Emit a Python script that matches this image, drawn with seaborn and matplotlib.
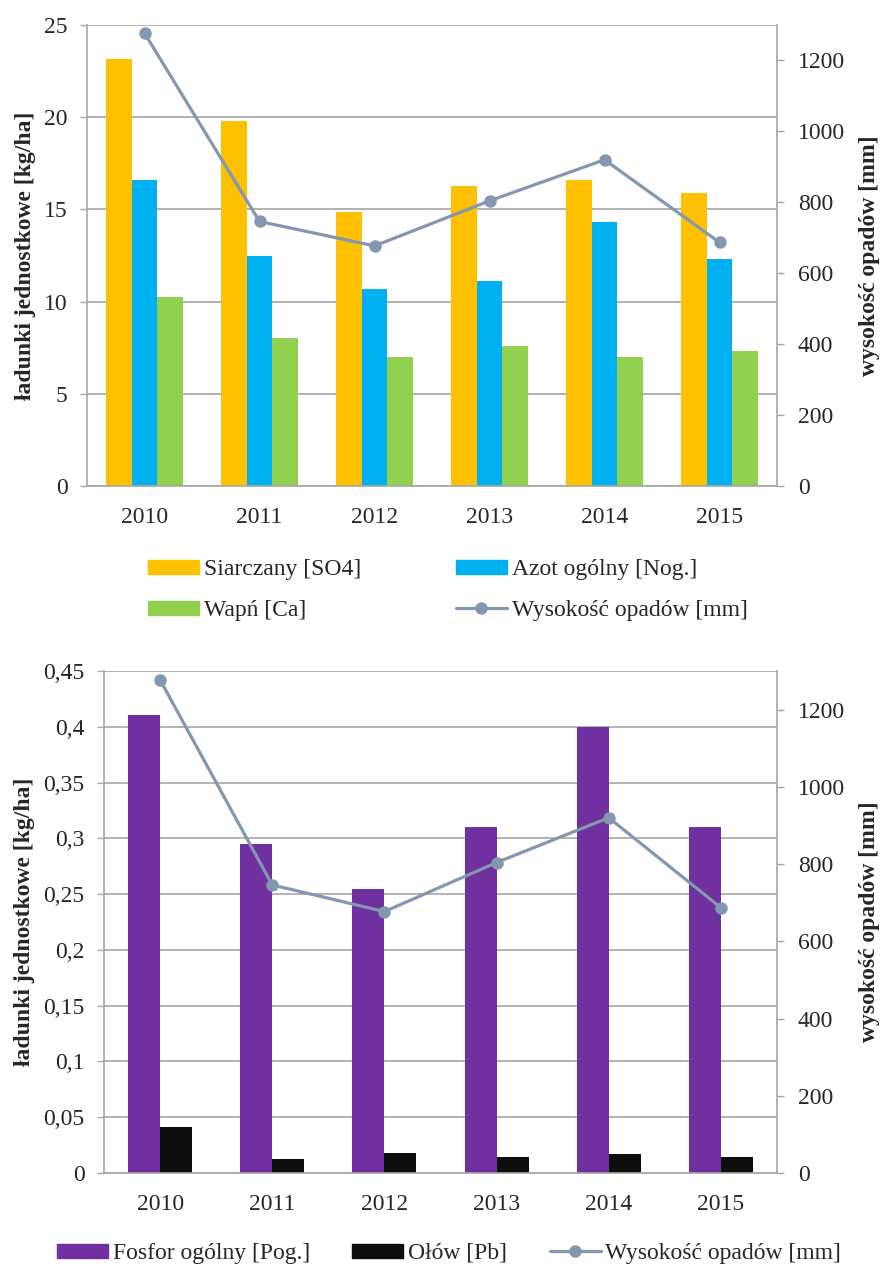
import numpy as np
import pandas as pd
import seaborn as sns
import matplotlib
matplotlib.use("Agg")
import matplotlib.pyplot as plt
from matplotlib.patches import Patch
from matplotlib.lines import Line2D
from matplotlib.ticker import FixedLocator, NullFormatter

# ---- data ----
years = ["2010", "2011", "2012", "2013", "2014", "2015"]
opady_mm = [1277, 746, 677, 804, 920, 687]

siarczany = [23.13, 19.77, 14.87, 16.25, 16.58, 15.87]
azot = [16.61, 12.49, 10.67, 11.10, 14.32, 12.29]
wapn = [10.23, 8.01, 7.00, 7.59, 7.00, 7.34]

fosfor = [0.411, 0.295, 0.255, 0.310, 0.400, 0.310]
olow = [0.041, 0.0125, 0.018, 0.0145, 0.017, 0.014]

top_series = ["Siarczany [SO4]", "Azot ogólny [Nog.]", "Wapń [Ca]"]
bottom_series = ["Fosfor ogólny [Pog.]", "Ołów [Pb]"]
line_label = "Wysokość opadów [mm]"

top_yticks = [0, 5, 10, 15, 20, 25]
top_yticklabels = ["0", "5", "10", "15", "20", "25"]
bottom_yticks = [0, 0.05, 0.10, 0.15, 0.20, 0.25, 0.30, 0.35, 0.40, 0.45]
bottom_yticklabels = ["0", "0,05", "0,1", "0,15", "0,2", "0,25", "0,3", "0,35", "0,4", "0,45"]
right_yticks = [0, 200, 400, 600, 800, 1000, 1200]
right_yticklabels = ["0", "200", "400", "600", "800", "1000", "1200"]

left_ylabel = "ładunki jednostkowe [kg/ha]"
right_ylabel = "wysokość opadów [mm]"

# ---- styling ----
sns.set_theme(style="white")
plt.rcParams["font.family"] = ["Liberation Serif", "DejaVu Serif"]
FS = 17
GRID = "#A6A6A6"
SPINE = "#A6A6A6"
LINE_C = "#8497B0"
top_colors = ["#FFC000", "#00B0F0", "#92D050"]
bottom_colors = ["#7030A0", "#0D0D0D"]

fig = plt.figure(figsize=(8.83, 12.67), dpi=100)


def style_axes(ax, ax2, yticks, yticklabels):
    n = len(years)
    ax.set_xlim(-0.5, n - 0.5)
    ax.set_ylim(yticks[0], yticks[-1])
    ax.yaxis.set_major_locator(FixedLocator(yticks))
    ax.set_yticklabels(yticklabels, fontsize=FS)
    ax.set_xticks(range(n))
    ax.set_xticklabels(years, fontsize=FS)
    ax.xaxis.set_minor_locator(FixedLocator(np.arange(-0.5, n, 1.0)))
    ax.xaxis.set_minor_formatter(NullFormatter())
    ax.tick_params(axis="x", which="major", length=0, pad=15)
    ax.tick_params(axis="x", which="minor", length=5, width=1, color=SPINE, direction="out")
    ax.tick_params(axis="y", length=5, width=1, color=SPINE, direction="out", pad=9, left=True)
    ax.grid(axis="y", color=GRID, linewidth=1.2)
    ax.grid(axis="x", visible=False)
    ax.set_axisbelow(True)
    for side in ["top", "right"]:
        ax.spines[side].set_visible(False)
    for side in ["left", "bottom"]:
        ax.spines[side].set_color(SPINE)
        ax.spines[side].set_linewidth(1.2)
    ax.set_xlabel("")
    ax.set_ylabel(left_ylabel, fontsize=FS, fontweight="bold", labelpad=6)

    ax2.set_ylim(0, 1300)
    ax2.yaxis.set_major_locator(FixedLocator(right_yticks))
    ax2.set_yticklabels(right_yticklabels, fontsize=FS)
    ax2.tick_params(axis="y", length=5, width=1, color=SPINE, direction="out", pad=10, right=True)
    ax2.grid(False)
    for side in ["top", "left", "bottom"]:
        ax2.spines[side].set_visible(False)
    ax2.spines["right"].set_color(SPINE)
    ax2.spines["right"].set_linewidth(1.2)
    ax2.set_ylabel(right_ylabel, fontsize=FS, fontweight="bold", labelpad=10)
    ax2.set_xlim(-0.5, n - 0.5)


def draw_line(ax2):
    sns.lineplot(x=np.arange(len(years)), y=opady_mm, ax=ax2, color=LINE_C,
                 linewidth=2.3, marker="o", markersize=9, markeredgewidth=0,
                 zorder=5)


def line_handle():
    return Line2D([], [], color=LINE_C, linewidth=2.3, marker="o", markersize=9,
                  markeredgewidth=0, label=line_label)


# ---- top chart ----
ax_top = fig.add_axes([87 / 883, 1 - 486 / 1267, 690 / 883, 461 / 1267])
df_top = pd.DataFrame({
    "rok": years * 3,
    "wartosc": siarczany + azot + wapn,
    "seria": sum([[s] * len(years) for s in top_series], []),
})
sns.barplot(data=df_top, x="rok", y="wartosc", hue="seria", hue_order=top_series,
            palette=top_colors, width=0.67, saturation=1, errorbar=None,
            legend=False, ax=ax_top, edgecolor="none")
ax_top2 = ax_top.twinx()
draw_line(ax_top2)
style_axes(ax_top, ax_top2, top_yticks, top_yticklabels)

# legend fills column by column: order gives rows (SO4, Nog.) and (Ca, line)
handles_top = [Patch(color=top_colors[0], label=top_series[0]),
               Patch(color=top_colors[2], label=top_series[2]),
               Patch(color=top_colors[1], label=top_series[1]),
               line_handle()]
fig.legend(handles=handles_top, ncol=2, loc="upper left",
           bbox_to_anchor=(148 / 883, 1 - 559 / 1267), frameon=False, fontsize=FS,
           handlelength=2.16, handleheight=0.55, handletextpad=0.22, columnspacing=4.0,
           labelspacing=0.85, borderpad=0, borderaxespad=0)

# ---- bottom chart ----
ax_bot = fig.add_axes([104 / 883, 1 - 1173 / 1267, 673 / 883, 502 / 1267])
df_bot = pd.DataFrame({
    "rok": years * 2,
    "wartosc": fosfor + olow,
    "seria": sum([[s] * len(years) for s in bottom_series], []),
})
sns.barplot(data=df_bot, x="rok", y="wartosc", hue="seria", hue_order=bottom_series,
            palette=bottom_colors, width=0.57, saturation=1, errorbar=None,
            legend=False, ax=ax_bot, edgecolor="none")
ax_bot2 = ax_bot.twinx()
draw_line(ax_bot2)
style_axes(ax_bot, ax_bot2, bottom_yticks, bottom_yticklabels)

handles_bot = [Patch(color=bottom_colors[0], label=bottom_series[0]),
               Patch(color=bottom_colors[1], label=bottom_series[1]),
               line_handle()]
fig.legend(handles=handles_bot, ncol=3, loc="upper left",
           bbox_to_anchor=(57 / 883, 1 - 1243 / 1267), frameon=False, fontsize=FS,
           handlelength=2.16, handleheight=0.55, handletextpad=0.2, columnspacing=1.8,
           borderpad=0, borderaxespad=0)

fig.savefig("out.png", dpi=100, facecolor="white")
